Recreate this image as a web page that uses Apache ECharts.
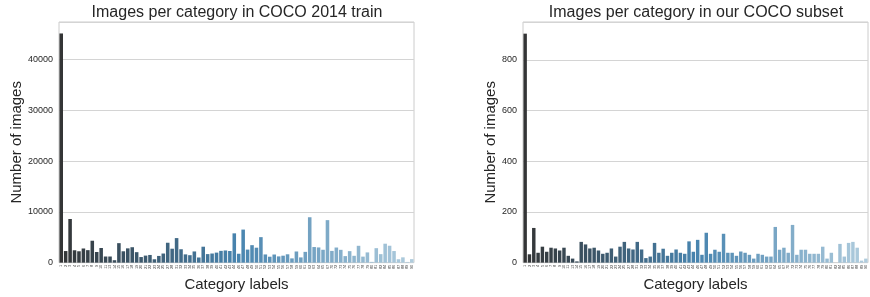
<!DOCTYPE html>
<html>
<head>
<meta charset="utf-8">
<script src="https://cdn.jsdelivr.net/npm/echarts@6/dist/echarts.min.js"></script>
<style>
  html, body { margin: 0; padding: 0; background: #fff; }
  #chart { width: 870px; height: 297px; }
</style>
</head>
<body>
<div id="chart"></div>
<script>
// COCO category ids (80 of them, ids 1..90 with gaps)
var categoryIds = [1, 2, 3, 4, 5, 6, 7, 8, 9, 10, 11, 13, 14, 15, 16, 17, 18, 19, 20, 21,
  22, 23, 24, 25, 27, 28, 31, 32, 33, 34, 35, 36, 37, 38, 39, 40, 41, 42, 43, 44,
  46, 47, 48, 49, 50, 51, 52, 53, 54, 55, 56, 57, 58, 59, 60, 61, 62, 63, 64, 65,
  67, 70, 72, 73, 74, 75, 76, 77, 78, 79, 80, 81, 82, 84, 85, 86, 87, 88, 89, 90];

// images per category, COCO 2014 train
var trainCounts = [45174, 2287, 8606, 2442, 2243, 2791, 2464, 4321, 2098, 2893,
  1211, 1211, 481, 3844, 2241, 2818, 3041, 2068, 1105, 1389,
  1517, 668, 1324, 1798, 3924, 2749, 4841, 2643, 1631, 1470,
  2209, 1017, 3143, 1685, 1800, 1977, 2323, 2401, 2302, 5776,
  1755, 6518, 2574, 3448, 2948, 5028, 1618, 1171, 1604, 1233,
  1373, 1647, 840, 2202, 1034, 2127, 8950, 3078, 2999, 2539,
  8378, 2317, 2981, 2529, 1291, 2268, 1350, 3322, 1189, 2018,
  151, 2853, 1677, 3734, 3335, 2288, 672, 1047, 140, 696];

// images per category, our subset
var subsetCounts = [904, 33, 137, 39, 63, 43, 59, 56, 48, 59,
  27, 16, 5, 82, 72, 56, 59, 48, 35, 39,
  56, 24, 63, 82, 56, 52, 82, 52, 18, 24,
  78, 39, 55, 27, 39, 52, 39, 35,
  84, 43, 90, 31, 118, 35, 51, 43, 114,
  39, 39, 27, 44, 39, 31, 16, 35, 31, 24, 24,
  141, 51, 59, 39, 149, 31, 51, 51, 35, 35, 35, 63, 16, 39, 0, 74, 24, 78, 82, 59, 8, 16];

var trainTicks = [0, 10000, 20000, 30000, 40000];
var subsetTicks = [0, 200, 400, 600, 800];

// dark grey -> blue -> light blue (reversed Blues_d), then seaborn's 0.75 desaturation
function desaturate(rgb, prop) {
  var r = rgb[0] / 255, g = rgb[1] / 255, b = rgb[2] / 255;
  var mx = Math.max(r, g, b), mn = Math.min(r, g, b);
  var l = (mx + mn) / 2, s = 0, h = 0;
  if (mx !== mn) {
    var d = mx - mn;
    s = l > 0.5 ? d / (2 - mx - mn) : d / (mx + mn);
    if (mx === r) h = ((g - b) / d + (g < b ? 6 : 0)) / 6;
    else if (mx === g) h = ((b - r) / d + 2) / 6;
    else h = ((r - g) / d + 4) / 6;
  }
  s *= prop;
  function hue(p, q, t) {
    if (t < 0) t += 1;
    if (t > 1) t -= 1;
    if (t < 1 / 6) return p + (q - p) * 6 * t;
    if (t < 1 / 2) return q;
    if (t < 2 / 3) return p + (q - p) * (2 / 3 - t) * 6;
    return p;
  }
  if (s === 0) return [rgb[0], rgb[1], rgb[2]];
  var q = l < 0.5 ? l * (1 + s) : l + s - l * s;
  var p = 2 * l - q;
  return [hue(p, q, h + 1 / 3), hue(p, q, h), hue(p, q, h - 1 / 3)].map(function (v) { return Math.round(v * 255); });
}

function paletteColor(i, n) {
  var stops = [[51, 51, 51], [55, 135, 192], [171, 208, 230]];
  var t = (i + 1) / (n + 1) * 2;
  var k = Math.min(1, Math.floor(t));
  var f = t - k;
  var c = [0, 1, 2].map(function (j) {
    return stops[k][j] + (stops[k + 1][j] - stops[k][j]) * f;
  });
  return 'rgb(' + desaturate(c, 0.75).join(',') + ')';
}

function coloured(values) {
  return values.map(function (v, i) {
    return { value: v, itemStyle: { color: paletteColor(i, values.length) } };
  });
}

var textColor = '#262626';
var fontFamily = 'Liberation Sans, Arial, sans-serif';

function xAxisFor(gridIndex) {
  return {
    type: 'category',
    gridIndex: gridIndex,
    data: categoryIds,
    axisLine: { show: false },
    axisTick: { show: false },
    axisLabel: { interval: 0, rotate: 90, fontSize: 4, color: '#444', margin: 2, fontFamily: fontFamily },
    name: 'Category labels',
    nameLocation: 'middle',
    nameGap: 13,
    nameTextStyle: { fontSize: 15, color: textColor, fontFamily: fontFamily }
  };
}

function yAxisFor(gridIndex, max, ticks, gap) {
  return {
    type: 'value',
    gridIndex: gridIndex,
    min: 0,
    max: max,
    interval: ticks[1] - ticks[0],
    axisLine: { show: false },
    axisTick: { show: false },
    axisLabel: {
      fontSize: 9, color: textColor, margin: 6, fontFamily: fontFamily, showMaxLabel: false,
      formatter: function (v) { return ticks.indexOf(v) >= 0 ? String(v) : ''; }
    },
    splitLine: { lineStyle: { color: '#d4d4d4', width: 1 } },
    name: 'Number of images',
    nameLocation: 'middle',
    nameGap: gap,
    nameTextStyle: { fontSize: 15, color: textColor, fontFamily: fontFamily }
  };
}

var chart = echarts.init(document.getElementById('chart'));

var option = {
  animation: false,
  backgroundColor: '#fff',
  title: [
    {
      text: 'Images per category in COCO 2014 train',
      left: 237, top: 5, padding: 0, textAlign: 'center',
      textStyle: { fontSize: 16, fontWeight: 'normal', color: textColor, fontFamily: fontFamily }
    },
    {
      text: 'Images per category in our COCO subset',
      left: 696, top: 5, padding: 0, textAlign: 'center',
      textStyle: { fontSize: 16, fontWeight: 'normal', color: textColor, fontFamily: fontFamily }
    }
  ],
  grid: [
    { left: 59, right: 456, top: 22, bottom: 32, show: true, borderColor: '#cccccc', borderWidth: 1 },
    { left: 523, right: 2, top: 22, bottom: 32, show: true, borderColor: '#cccccc', borderWidth: 1 }
  ],
  xAxis: [xAxisFor(0), xAxisFor(1)],
  yAxis: [
    yAxisFor(0, 47433, trainTicks, 24),
    yAxisFor(1, 950, subsetTicks, 23)
  ],
  series: [
    { type: 'bar', xAxisIndex: 0, yAxisIndex: 0, barCategoryGap: '20%', data: coloured(trainCounts) },
    { type: 'bar', xAxisIndex: 1, yAxisIndex: 1, barCategoryGap: '20%', data: coloured(subsetCounts) }
  ]
};

chart.setOption(option);
</script>
</body>
</html>
